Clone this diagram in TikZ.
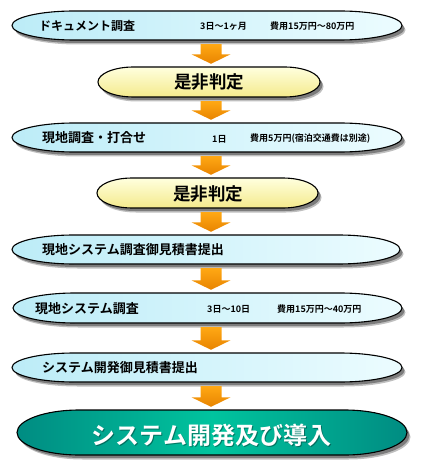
\documentclass[tikz,border=0pt]{standalone}
\usepackage{fontspec}
\newfontfamily\jp{Noto Sans CJK JP}[BoldFont={Noto Sans CJK JP Bold}]
\usetikzlibrary{calc}
\definecolor{bluelt}{RGB}{236,252,255}
\definecolor{bluedk}{RGB}{188,236,247}
\definecolor{yellt}{RGB}{255,255,222}
\definecolor{yeldk}{RGB}{244,234,140}
\definecolor{tealdk}{RGB}{0,140,130}
\definecolor{teallt}{RGB}{0,196,158}
\definecolor{orglt}{RGB}{255,168,20}
\definecolor{orgdk}{RGB}{232,132,0}
\newcommand\termshape[6]{%
  \pgfmathsetmacro\rx{0.16*(#5-#3)}%
  \pgfmathsetmacro\ry{(#6-#4)/2}%
  \pgfmathsetmacro\xa{#3+\rx}%
  \pgfmathsetmacro\xb{#5-\rx}%
  \fill[black,opacity=.25] (\xa+3.5,#4+4.5) -- (\xb+3.5,#4+4.5) arc[start angle=-90,end angle=90,x radius=\rx,y radius=\ry] -- (\xa+3.5,#6+4.5) arc[start angle=90,end angle=270,x radius=\rx,y radius=\ry] -- cycle;
  \fill[black,opacity=.35] (\xa+2.5,#4+3) -- (\xb+2.5,#4+3) arc[start angle=-90,end angle=90,x radius=\rx,y radius=\ry] -- (\xa+2.5,#6+3) arc[start angle=90,end angle=270,x radius=\rx,y radius=\ry] -- cycle;
  \path[#1] (\xa,#4) -- (\xb,#4) arc[start angle=-90,end angle=90,x radius=\rx,y radius=\ry] -- (\xa,#6) arc[start angle=90,end angle=270,x radius=\rx,y radius=\ry] -- cycle;
  \node[inner sep=0pt,minimum width={(#5-#3)*1pt},minimum height={(#6-#4)*1pt}] (#2) at ({(#3+#5)/2},{(#4+#6)/2}) {};
}
\newcommand\blockarrow[2]{%
  \path[arrowfill] let \p1=(#1.south), \p2=(#2.north), \p3=(axis) in
    (\x3-10.5pt,\y1-4pt) -- (\x3+10.5pt,\y1-4pt) -- (\x3+10.5pt,\y2+12.5pt) -- (\x3+19.5pt,\y2+12.5pt)
    -- (\x3,\y2+3pt) -- (\x3-19.5pt,\y2+12.5pt) -- (\x3-10.5pt,\y2+12.5pt) -- cycle;
}
\begin{document}
\begin{tikzpicture}[x=1pt,y=-1pt,
  blueterm/.style={draw=black,line width=1.1pt,left color=bluedk,right color=bluelt},
  yellterm/.style={draw=black,line width=1.1pt,top color=yellt,bottom color=yeldk},
  tealterm/.style={draw=black,line width=1.1pt,left color=tealdk,right color=tealdk,middle color=teallt},
  arrowfill/.style={top color=orglt,bottom color=orgdk},
  lbl/.style={inner sep=0pt,anchor=west,font=\jp\bfseries\fontsize{13}{13}\selectfont},
  lblone/.style={lbl,font=\jp\bfseries\fontsize{12}{12}\selectfont},
  sm/.style={inner sep=0pt,anchor=west,font=\jp\bfseries\fontsize{9}{9}\selectfont},
  judge/.style={inner sep=0pt,font=\jp\bfseries\fontsize{17.5}{17.5}\selectfont},
  final/.style={inner sep=0pt,text=white,font=\jp\bfseries\fontsize{24}{24}\selectfont},
  finalshadow/.style={final,text=black,opacity=.35}]
\useasboundingbox (0,0) rectangle (442,470);
\coordinate (axis) at (211,0);

\termshape{blueterm}{s1}{12}{11}{402}{40}
\termshape{yellterm}{s2}{98}{67}{320}{97}
\termshape{blueterm}{s3}{12}{123}{402}{152}
\termshape{yellterm}{s4}{97}{178}{318}{208}
\termshape{blueterm}{s5}{12}{235}{400}{264}
\termshape{blueterm}{s6}{13}{293}{402}{323}
\termshape{blueterm}{s7}{12}{353}{402}{382}
\termshape{tealterm}{s8}{17}{410}{407}{455}

\blockarrow{s1}{s2}
\blockarrow{s2}{s3}
\blockarrow{s3}{s4}
\blockarrow{s4}{s5}
\blockarrow{s5}{s6}
\blockarrow{s6}{s7}
\blockarrow{s7}{s8}

\node[lblone] (t1) at (39,25.5) {ドキュメント調査};
\node[sm] (t1a) at (200,26.5) {3日～1ヶ月};
\node[sm] (t1b) at (270,26.5) {費用15万円～80万円};

\node[judge] (t2) at (209,82) {是非判定};

\node[lbl] (t3) at (42,138) {現地調査・打合せ};
\node[sm] (t3a) at (212,139) {1日};
\node[sm] (t3b) at (250,139) {費用5万円(宿泊交通費は別途)};

\node[judge] (t4) at (208,193.5) {是非判定};

\node[lbl] (t5) at (42,250) {現地システム調査御見積書提出};

\node[lbl] (t6) at (35,309) {現地システム調査};
\node[sm] (t6a) at (207,309.5) {3日～10日};
\node[sm] (t6b) at (277,309.5) {費用15万円～40万円};

\node[lbl] (t7) at (42,368) {システム開発御見積書提出};

\node[finalshadow] (t8s) at (212.5,436) {システム開発及び導入};
\node[final] (t8) at (211.5,435) {システム開発及び導入};
\end{tikzpicture}
\end{document}
